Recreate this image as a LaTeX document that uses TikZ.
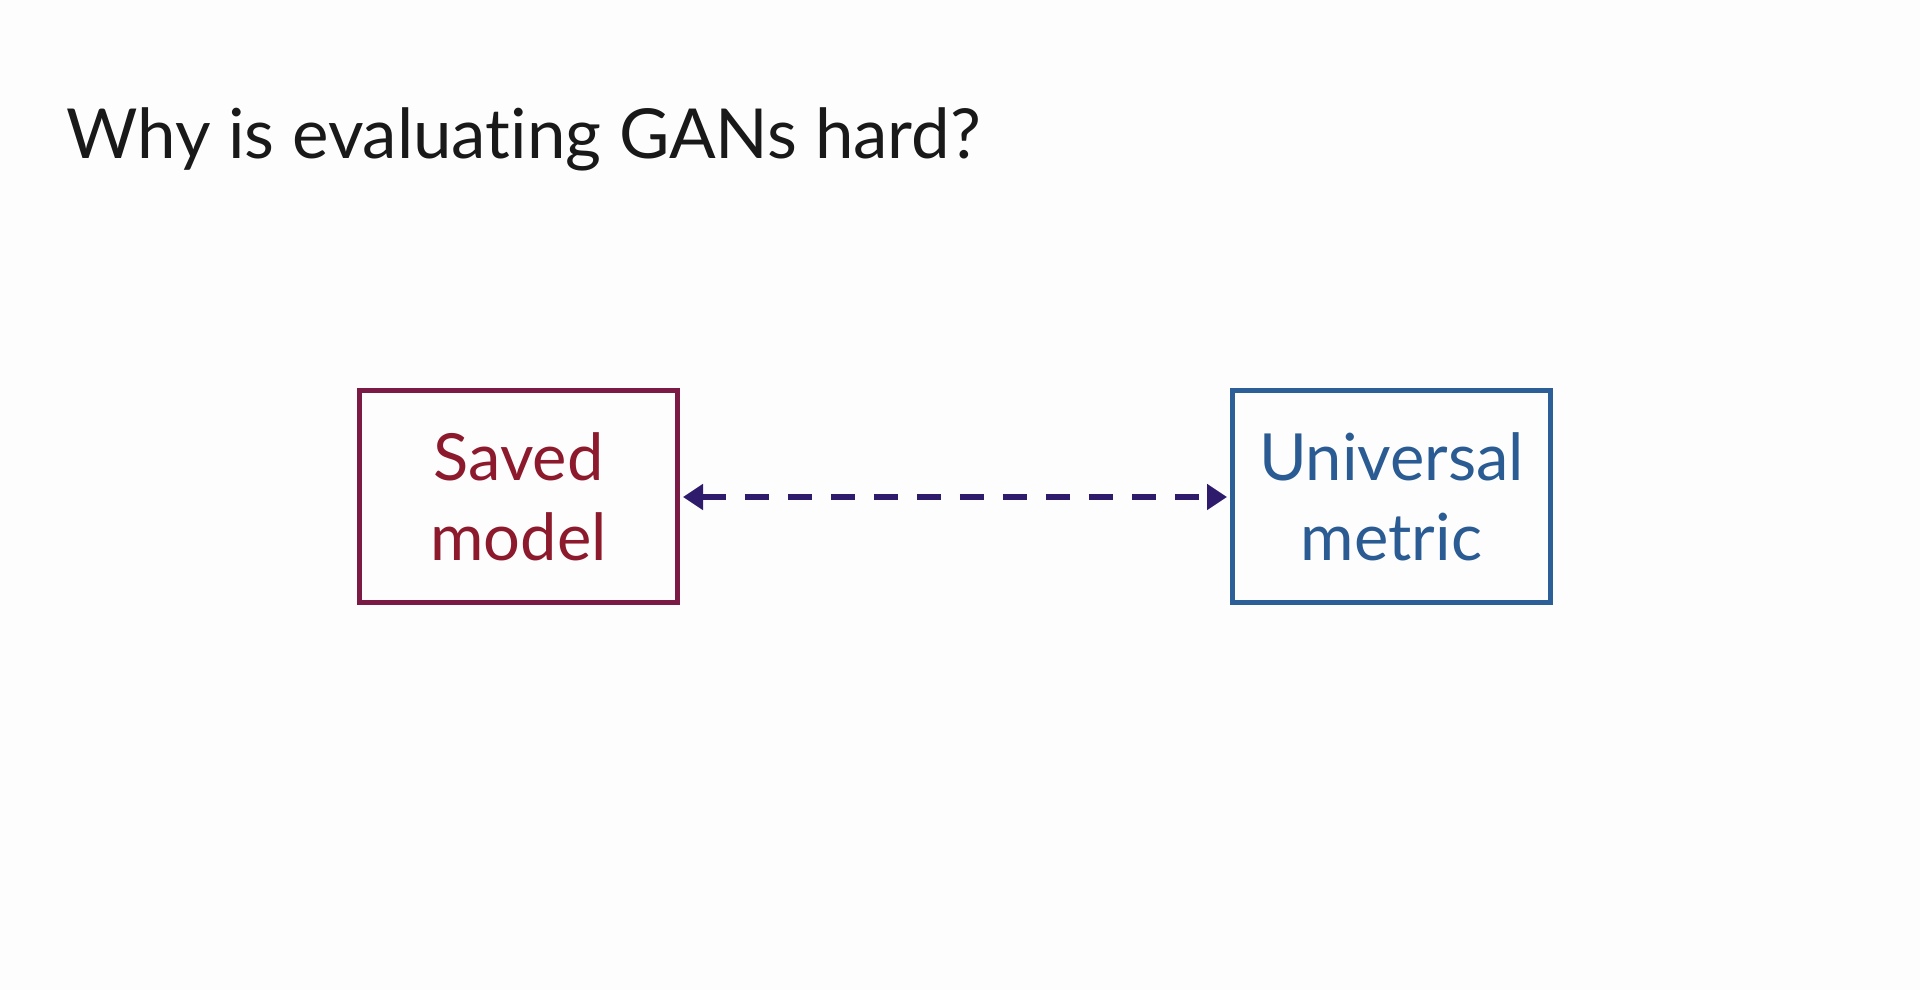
\documentclass[tikz,border=0pt]{standalone}
\usepackage{fontspec}
\setmainfont{Lato}[Ligatures=NoCommon]
\usetikzlibrary{arrows.meta}
\definecolor{bg}{HTML}{FDFDFD}
\definecolor{redborder}{HTML}{7A1A45}
\definecolor{redtext}{HTML}{8C1A2C}
\definecolor{blueborder}{HTML}{2C5E98}
\definecolor{bluetext}{HTML}{2A5B93}
\definecolor{arrowcol}{HTML}{2E1B6C}
\tikzset{
  box/.style={draw, line width=5pt, minimum width=318pt, minimum height=212pt, inner sep=0pt, align=center, font=\fontsize{65}{80}\selectfont},
  link/.style={arrowcol, line width=6pt, dash pattern=on 24pt off 19pt, {Triangle[length=20pt,width=25pt]}-{Triangle[length=20pt,width=25pt]}, shorten <=3pt, shorten >=3pt}
}
\begin{document}
\begin{tikzpicture}[x=1pt,y=1pt]
\fill[bg] (0,0) rectangle (1920,990);
\useasboundingbox (0,0) rectangle (1920,990);
\node[anchor=base west, inner sep=0pt, font=\fontsize{69}{80}\selectfont, text=black!90] (title) at (66,831) {Why is evaluating GANs hard?};
\node[box, draw=redborder, text=redtext] (saved) at (518.5,493) {Saved\\model};
\node[box, draw=blueborder, text=bluetext] (metric) at (1391.5,493) {Universal\\metric};
\draw[link] (saved.east) -- (metric.west);
\end{tikzpicture}
\end{document}
